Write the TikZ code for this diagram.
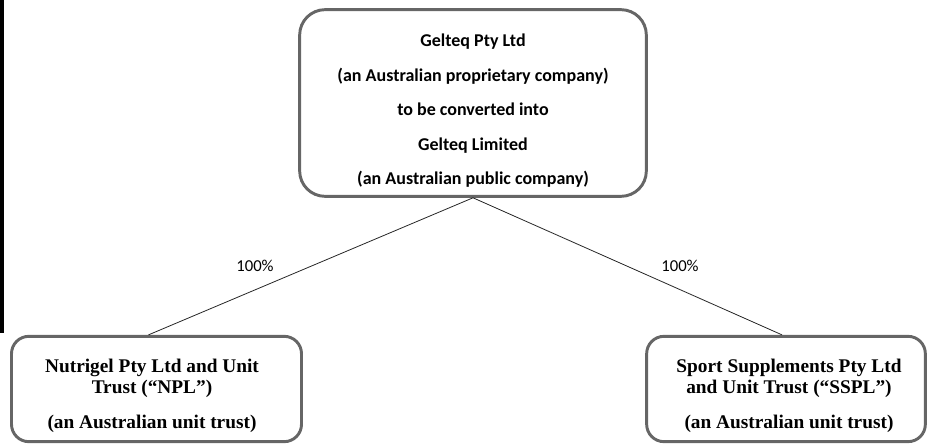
\documentclass[tikz,border=0pt]{standalone}
\usepackage{fontspec}
\setmainfont{Liberation Serif}
\newfontfamily\carlito{Carlito}

\begin{document}
\begin{tikzpicture}[x=0.75pt,y=-0.75pt,
    box/.style={draw=black!60,line width=2.2pt},
    pct/.style={font=\carlito\fontsize{12.5}{15}\selectfont},
    trust/.style={align=center,font=\bfseries\fontsize{14.5}{15.75}\selectfont}]

    \useasboundingbox (0,0) rectangle (930,445);
    \fill (0,0) rectangle (3.5,333);

    \node[box,rounded corners=19pt,minimum width=260pt,minimum height=140pt] (gelteq) at (473,103) {};
    \node[align=center,font=\carlito\bfseries\fontsize{13.5}{25.9}\selectfont] (gelteqtext) at (473,111)
        {Gelteq Pty Ltd\\(an Australian proprietary company)\\to be converted into\\Gelteq Limited\\(an Australian public company)};

    \node[box,rounded corners=13pt,minimum width=217.5pt,minimum height=79pt] (npl) at (156.5,389) {};
    \node[trust] (npltext) at (152,396) {Nutrigel Pty Ltd and Unit\\Trust (“NPL”)\\[10.5pt](an Australian unit trust)};

    \node[box,rounded corners=13pt,minimum width=209pt,minimum height=79pt] (sspl) at (786,389) {};
    \node[trust] (sspltext) at (789,396) {Sport Supplements Pty Ltd\\and Unit Trust (“SSPL”)\\[10.5pt](an Australian unit trust)};

    \draw[black!85,line width=0.6pt] (gelteq.south) -- ([xshift=-6pt]npl.north);
    \draw[black!85,line width=0.6pt] (gelteq.south) -- ([xshift=-3pt]sspl.north);

    \node[pct] (nplpct) at (255,266) {100\%};
    \node[pct] (ssplpct) at (680,266) {100\%};
\end{tikzpicture}
\end{document}
